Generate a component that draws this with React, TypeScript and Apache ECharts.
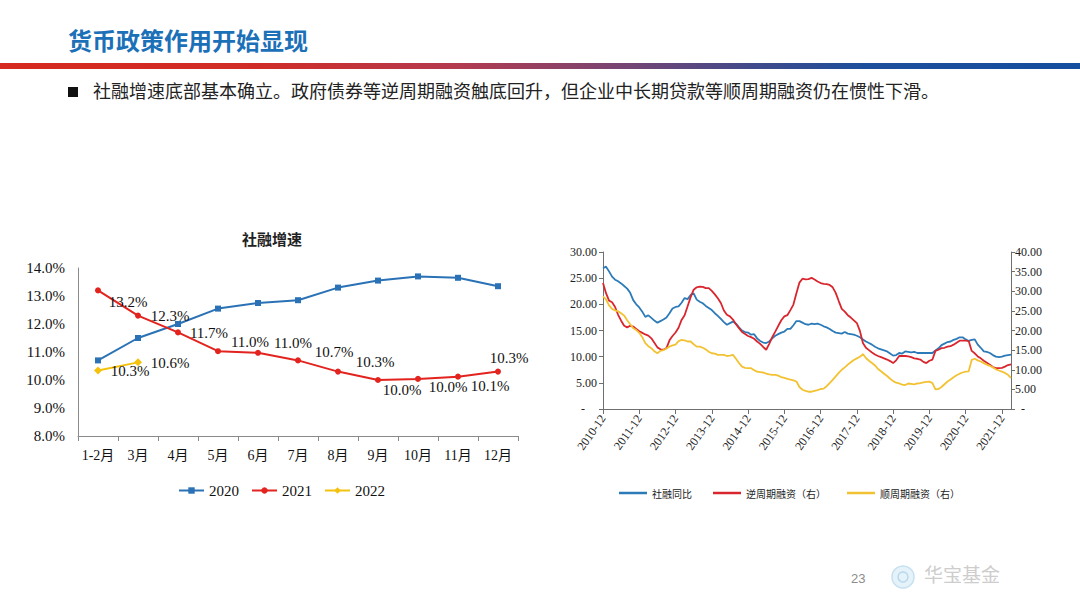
import React, { useEffect, useRef } from "react";
import * as echarts from "echarts";

// ---------- Left chart data (社融增速, %) ----------
const monthsLeft = ["1-2月", "3月", "4月", "5月", "6月", "7月", "8月", "9月", "10月", "11月", "12月"];
const s2020 = [10.7, 11.5, 12.0, 12.55, 12.75, 12.85, 13.3, 13.55, 13.7, 13.65, 13.35];
const s2021 = [13.2, 12.3, 11.7, 11.03, 10.97, 10.7, 10.3, 10.0, 10.04, 10.12, 10.3];
const s2022 = [10.34, 10.63];
const yTicksLeft = { min: 8, max: 14, interval: 1 };

// label placement (layout only)
const LABEL_OFFSETS_2021 = [[30, 12], [32, 0], [31, 1], [32, -9], [35, -10], [36, -8], [37, -10], [24, 10], [30, 8], [32, 9], [11, -14]];
const LABEL_OFFSETS_2022 = [[32, 1], [32, 1]];

// ---------- Right chart data (monthly, 2010-12 .. 2022-03) ----------
const startYear = 2010;
const startMonth = 12;
const monthCount = 136;
const monthsRight: string[] = [];
for (let i = 0; i < monthCount; i++) {
  const m = startMonth - 1 + i;
  const y = startYear + Math.floor(m / 12);
  const mm = (m % 12) + 1;
  monthsRight.push(`${y}-${mm < 10 ? "0" + mm : mm}`);
}

const tsfYoY = [
  26.9, 27.2, 26.3, 25.3, 24.7, 24.4, 24.0, 23.5, 23.0, 22.2, 20.8, 20.0,
  19.4, 18.6, 17.6, 17.9, 17.4, 16.9, 16.5, 16.8, 17.1, 17.5, 18.3, 19.2,
  19.5, 19.6, 20.3, 21.2, 21.0, 21.8, 22.1, 20.9, 20.5, 20.2, 19.7, 19.3,
  18.9, 18.3, 17.8, 17.2, 16.6, 16.1, 16.4, 16.7, 16.3, 15.6, 15.0, 14.7,
  14.6, 14.2, 14.3, 13.5, 13.0, 12.7, 12.6, 12.9, 13.5, 14.0, 14.3, 14.6,
  14.8, 15.3, 15.3, 16.0, 16.8, 16.8, 16.5, 16.2, 16.1, 16.3, 16.2, 16.3,
  16.1, 15.8, 15.6, 15.3, 14.9, 14.6, 14.5, 14.4, 14.7, 14.4, 14.3, 14.2,
  14.0, 13.7, 13.3, 12.9, 12.6, 12.3, 11.9, 11.6, 11.4, 11.2, 11.0, 10.6,
  10.2, 10.3, 10.7, 10.6, 11.0, 10.9, 10.8, 10.9, 10.7, 10.7, 10.7, 10.7,
  10.7, 10.7, 11.2, 11.6, 12.2, 12.5, 12.8, 12.9, 13.2, 13.4, 13.7, 13.7,
  13.3, 13.0, 13.2, 13.3, 12.3, 11.7, 11.0, 10.9, 10.7, 10.3, 10.0, 9.9,
  10.0, 10.2, 10.3, 10.4,
];

const counterCyclical = [
  32.1, 29.5, 27.6, 27.2, 26.0, 24.0, 22.5, 21.2, 20.8, 21.2, 21.0, 20.4,
  19.8, 19.4, 19.0, 18.7, 18.0, 16.9, 15.7, 15.2, 15.1, 15.5, 17.5, 18.6,
  19.5, 20.7, 22.7, 23.9, 26.2, 28.5, 30.4, 31.0, 31.2, 31.1, 30.8, 30.8,
  30.1, 29.2, 28.2, 27.0, 25.1, 24.0, 23.6, 22.8, 21.6, 20.6, 19.6, 19.1,
  18.6, 18.3, 17.9, 17.2, 16.6, 15.8, 15.1, 16.6, 18.3, 19.7, 21.2, 22.6,
  23.6, 23.9, 25.2, 26.6, 29.5, 32.2, 33.2, 33.0, 33.1, 33.4, 33.0, 32.5,
  32.1, 31.9, 31.8, 31.6, 31.0, 29.6, 27.5, 25.5, 24.8, 23.9, 23.3, 22.6,
  21.9, 19.9, 16.8, 15.6, 15.0, 14.4, 13.9, 13.5, 13.2, 12.9, 12.6, 12.2,
  11.7, 12.4, 13.5, 13.5, 13.5, 13.4, 13.2, 12.9, 12.8, 12.6, 12.0, 11.7,
  12.3, 12.6, 14.8, 15.1, 15.5, 15.6, 15.9, 16.0, 16.4, 16.9, 17.4, 17.4,
  17.4, 17.3, 14.8, 14.2, 13.4, 12.9, 12.3, 11.8, 11.3, 10.7, 10.4, 10.4,
  10.5, 10.8, 11.2, 11.4,
];

const proCyclical = [
  28.7, 27.9, 26.4, 25.5, 25.1, 24.9, 24.4, 23.8, 22.6, 21.6, 20.6, 20.1,
  19.4, 18.3, 16.8, 16.0, 15.5, 14.7, 14.2, 14.8, 15.0, 15.4, 15.9, 16.2,
  16.4, 17.3, 17.6, 17.5, 17.2, 17.2, 16.5, 15.9, 15.9, 15.6, 15.2, 14.6,
  14.2, 14.1, 13.8, 13.8, 13.8, 13.5, 13.6, 13.8, 12.8, 11.7, 10.8, 10.5,
  10.4, 10.4, 9.9, 9.5, 9.4, 9.3, 9.0, 8.8, 8.7, 8.7, 8.5, 8.1,
  7.9, 7.7, 7.5, 7.3, 7.0, 5.6, 4.9, 4.6, 4.4, 4.4, 4.6, 4.8,
  5.1, 5.2, 5.8, 6.6, 7.4, 8.3, 9.2, 10.0, 10.6, 11.3, 11.9, 12.5,
  12.9, 13.3, 14.0, 13.0, 12.3, 11.7, 11.1, 10.2, 9.6, 9.0, 8.4, 7.7,
  7.1, 6.7, 6.5, 6.2, 6.1, 6.5, 6.4, 6.3, 6.5, 6.6, 6.8, 6.9,
  7.0, 6.6, 5.0, 5.1, 5.6, 6.3, 7.0, 7.5, 8.1, 8.6, 9.0, 9.3,
  9.5, 9.6, 12.5, 12.8, 12.4, 12.1, 11.7, 11.3, 11.0, 10.6, 10.1, 9.8,
  9.5, 9.2, 8.7, 7.9,
];

const yTicksRightLeft = { min: 0, max: 30, interval: 5 };
const yTicksRightRight = { min: 0, max: 40, interval: 5 };

const TITLE = "货币政策作用开始显现";
const BULLET = "社融增速底部基本确立。政府债券等逆周期融资触底回升，但企业中长期贷款等顺周期融资仍在惯性下滑。";

const SERIF = "'Liberation Serif','Times New Roman','Noto Sans CJK SC',serif";
const CJK = "'Noto Sans CJK SC','Noto Sans',sans-serif";

export default function App() {
  const ref = useRef<HTMLDivElement>(null);
  useEffect(() => {
    if (!ref.current) return;
    const chart = echarts.init(ref.current, null, { renderer: "svg" });
    const axisGray = "#8a8a8a";
    const pct = (v: number) => v.toFixed(1) + "%";
    const option: any = {
      animation: false,
      backgroundColor: "#ffffff",
      grid: [
        { left: 78, top: 268, width: 440, height: 168 },
        { left: 603, top: 252, width: 408, height: 157 },
      ],
      xAxis: [
        {
          type: "category",
          gridIndex: 0,
          data: monthsLeft,
          boundaryGap: true,
          axisLine: { lineStyle: { color: axisGray, width: 1 } },
          axisTick: { show: true, length: 5, interval: 0, lineStyle: { color: axisGray } },
          axisLabel: { color: "#111", fontSize: 14, fontFamily: SERIF, margin: 12, interval: 0 },
          splitLine: { show: false },
        },
        {
          type: "category",
          gridIndex: 1,
          data: monthsRight,
          boundaryGap: false,
          axisLine: { lineStyle: { color: "#6f6f6f", width: 1 } },
          axisTick: { show: true, length: 5, interval: 11, lineStyle: { color: "#6f6f6f" } },
          axisLabel: { color: "#222", fontSize: 12, fontFamily: SERIF, interval: 11, rotate: 55, margin: 7 },
          splitLine: { show: false },
        },
      ],
      yAxis: [
        {
          type: "value",
          gridIndex: 0,
          ...yTicksLeft,
          axisLine: { show: true, lineStyle: { color: axisGray, width: 1 } },
          axisTick: { show: false },
          splitLine: { show: false },
          axisLabel: { color: "#111", fontSize: 15, fontFamily: SERIF, margin: 13, formatter: (v: number) => pct(v) },
        },
        {
          type: "value",
          gridIndex: 1,
          position: "left",
          ...yTicksRightLeft,
          axisLine: { show: true, lineStyle: { color: "#6f6f6f", width: 1 } },
          axisTick: { show: true, length: 4, lineStyle: { color: "#6f6f6f" } },
          splitLine: { show: false },
          axisLabel: {
            color: "#222",
            fontSize: 12,
            fontFamily: SERIF,
            margin: 6,
            formatter: (v: number) => (v === 0 ? "-    " : v.toFixed(2)),
          },
        },
        {
          type: "value",
          gridIndex: 1,
          position: "right",
          ...yTicksRightRight,
          axisLine: { show: true, lineStyle: { color: "#6f6f6f", width: 1 } },
          axisTick: { show: true, length: 4, lineStyle: { color: "#6f6f6f" } },
          splitLine: { show: false },
          axisLabel: {
            color: "#222",
            fontSize: 12,
            fontFamily: SERIF,
            margin: 4,
            formatter: (v: number) => (v === 0 ? "  -" : v.toFixed(2)),
          },
        },
      ],
      legend: [
        {
          data: ["2020", "2021", "2022"],
          left: 173,
          top: 478,
          itemWidth: 25,
          itemHeight: 8,
          itemGap: 12,
          textStyle: { fontFamily: SERIF, fontSize: 15, color: "#111" },
        },
        {
          data: ["社融同比", "逆周期融资（右）", "顺周期融资（右）"],
          left: 614,
          top: 483,
          icon: "rect",
          itemWidth: 28,
          itemHeight: 2.5,
          itemGap: 21,
          textStyle: { fontFamily: CJK, fontSize: 10, color: "#222" },
        },
      ],
      series: [
        {
          name: "2020",
          type: "line",
          xAxisIndex: 0,
          yAxisIndex: 0,
          data: s2020,
          symbol: "rect",
          symbolSize: 6,
          color: "#2A72B5",
          lineStyle: { width: 2 },
        },
        {
          name: "2021",
          type: "line",
          xAxisIndex: 0,
          yAxisIndex: 0,
          data: s2021.map((v, i) => ({ value: v, label: { offset: LABEL_OFFSETS_2021[i] } })),
          symbol: "circle",
          symbolSize: 6,
          color: "#E2231E",
          lineStyle: { width: 2 },
          label: {
            show: true,
            position: "inside",
            color: "#111",
            fontSize: 15,
            fontFamily: SERIF,
            formatter: (p: any) => pct(p.value),
          },
        },
        {
          name: "2022",
          type: "line",
          xAxisIndex: 0,
          yAxisIndex: 0,
          data: s2022.map((v, i) => ({ value: v, label: { offset: LABEL_OFFSETS_2022[i] } })),
          symbol: "diamond",
          symbolSize: 8,
          color: "#F4C20D",
          lineStyle: { width: 2 },
          label: {
            show: true,
            position: "inside",
            color: "#111",
            fontSize: 15,
            fontFamily: SERIF,
            formatter: (p: any) => pct(p.value),
          },
        },
        {
          name: "社融同比",
          type: "line",
          xAxisIndex: 1,
          yAxisIndex: 1,
          data: tsfYoY,
          symbol: "none",
          color: "#2C7BB8",
          lineStyle: { width: 1.8 },
        },
        {
          name: "逆周期融资（右）",
          type: "line",
          xAxisIndex: 1,
          yAxisIndex: 2,
          data: counterCyclical,
          symbol: "none",
          color: "#D9262E",
          lineStyle: { width: 1.8 },
        },
        {
          name: "顺周期融资（右）",
          type: "line",
          xAxisIndex: 1,
          yAxisIndex: 2,
          data: proCyclical,
          symbol: "none",
          color: "#F3C232",
          lineStyle: { width: 1.8 },
        },
      ],
      graphic: [
        {
          type: "text",
          left: 68,
          top: 27,
          style: { text: TITLE, font: `bold 24px ${CJK}`, fill: "#1B70B8" },
        },
        {
          type: "rect",
          shape: { x: 0, y: 63, width: 1080, height: 6 },
          style: {
            fill: new echarts.graphic.LinearGradient(0, 0, 1, 0, [
              { offset: 0, color: "#D6291F" },
              { offset: 0.24, color: "#D02C27" },
              { offset: 0.42, color: "#B43A4E" },
              { offset: 0.56, color: "#7E4470" },
              { offset: 0.7, color: "#3F4A8C" },
              { offset: 0.8, color: "#1E4F9C" },
              { offset: 1, color: "#144E9E" },
            ]),
          },
        },
        {
          type: "rect",
          shape: { x: 68, y: 87, width: 10, height: 10 },
          style: { fill: "#111" },
        },
        {
          type: "text",
          left: 93,
          top: 81,
          style: { text: BULLET, font: `18px ${CJK}`, fill: "#222" },
        },
        {
          type: "text",
          left: 242,
          top: 231,
          style: { text: "社融增速", font: `bold 15px ${CJK}`, fill: "#222" },
        },
        {
          type: "text",
          left: 851,
          top: 572,
          style: { text: "23", font: `13px 'Liberation Sans',sans-serif`, fill: "#8c8c8c" },
        },
        {
          type: "circle",
          shape: { cx: 903, cy: 577, r: 11 },
          style: { fill: "#E6F2F9", stroke: "#C5E0F0", lineWidth: 1.5 },
        },
        {
          type: "circle",
          shape: { cx: 903, cy: 577, r: 5 },
          style: { fill: "none", stroke: "#B8D8EC", lineWidth: 1.5 },
        },
        {
          type: "text",
          left: 924,
          top: 564,
          style: { text: "华宝基金", font: `19px ${CJK}`, fill: "#cdcdcd" },
        },
      ],
    };
    chart.setOption(option);
    return () => chart.dispose();
  }, []);
  return (
    <div
      ref={ref}
      style={{ position: "absolute", left: 0, top: 0, width: 1080, height: 608, background: "#fff" }}
    />
  );
}
